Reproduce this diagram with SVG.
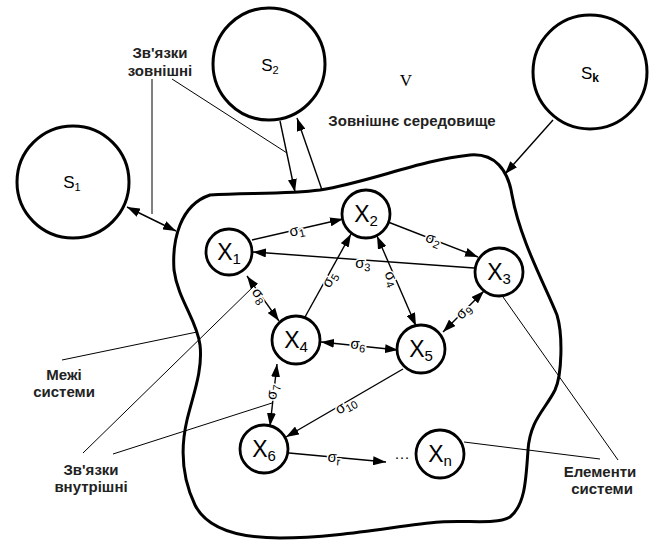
<svg xmlns="http://www.w3.org/2000/svg" width="651" height="540" viewBox="0 0 651 540">
<defs>
<marker id="ah" markerUnits="userSpaceOnUse" markerWidth="13" markerHeight="9" refX="13" refY="4.5" orient="auto-start-reverse"><path d="M0,0 L13,4.5 L0,9 z" fill="#000"/></marker>
<style>
.big{fill:#fff;stroke:#000;stroke-width:3}
.node{fill:#fff;stroke:#000;stroke-width:2.8}
.bd{fill:none;stroke:#000;stroke-width:3}
.c{fill:none;stroke:#000;stroke-width:1.4}
.ld{fill:none;stroke:#000;stroke-width:1}
.lbl{font-family:"Liberation Sans",Arial,sans-serif;font-weight:bold;font-size:15px;fill:#222;text-anchor:middle}
.x{font-family:"Liberation Sans",Arial,sans-serif;font-size:23px;fill:#000;text-anchor:middle}
.sg{font-family:"Liberation Sans",Arial,sans-serif;font-size:15px;fill:#000;text-anchor:middle;stroke:#fff;stroke-width:3;paint-order:stroke}
.s{font-family:"Liberation Sans",Arial,sans-serif;font-size:17px;fill:#000;text-anchor:middle}
</style>
</defs>
<rect width="651" height="540" fill="#fff"/>

<g id="boundary">
<path class="bd" d="M210,195 C250,193 290,194 320,190 C370,182 420,160 470,155 C495,153 508,170 512,195 C520,240 545,285 557,315 C563,335 562,375 555,390 C545,410 530,420 528,450 C526,480 525,505 510,517 C495,525 470,520 440,522 C400,525 340,538 280,538 C230,538 205,525 195,505 C183,480 180,450 187,420 C193,395 203,370 200,345 C197,320 178,300 174,270 C172,240 180,205 210,195 Z"/>
</g>

<g id="leaders">
<line class="ld" x1="152" y1="79" x2="152" y2="214"/>
<line class="ld" x1="172" y1="79" x2="287" y2="153"/>
<line class="ld" x1="62" y1="360" x2="197" y2="332"/>
<line class="ld" x1="83" y1="453" x2="256" y2="284"/>
<line class="ld" x1="113" y1="454" x2="272" y2="403"/>
<line class="ld" x1="503" y1="297" x2="618" y2="460"/>
<line class="ld" x1="464" y1="442" x2="600" y2="459"/>
</g>

<g id="connectors">
<line class="c" x1="127" y1="207" x2="176" y2="231" marker-start="url(#ah)" marker-end="url(#ah)"/>
<line class="c" x1="280" y1="121" x2="295" y2="192" marker-end="url(#ah)"/>
<line class="c" x1="322" y1="190" x2="297" y2="118" marker-end="url(#ah)"/>
<line class="c" x1="553" y1="120" x2="505" y2="174" marker-end="url(#ah)"/>

<line class="c" x1="252" y1="240" x2="343" y2="219" marker-end="url(#ah)"/>
<line class="c" x1="388" y1="222" x2="478" y2="257" marker-end="url(#ah)"/>
<line class="c" x1="474" y1="268" x2="253" y2="252" marker-end="url(#ah)"/>
<line class="c" x1="377" y1="236" x2="416" y2="326" marker-start="url(#ah)" marker-end="url(#ah)"/>
<line class="c" x1="305" y1="317" x2="351" y2="234" marker-end="url(#ah)"/>
<line class="c" x1="321" y1="342" x2="398" y2="350" marker-start="url(#ah)" marker-end="url(#ah)"/>
<line class="c" x1="247" y1="276" x2="279" y2="321" marker-start="url(#ah)" marker-end="url(#ah)"/>
<line class="c" x1="443" y1="332" x2="484" y2="291" marker-start="url(#ah)" marker-end="url(#ah)"/>
<line class="c" x1="277" y1="364" x2="270" y2="426" marker-start="url(#ah)" marker-end="url(#ah)"/>
<line class="c" x1="403" y1="369" x2="286" y2="437" marker-end="url(#ah)"/>
<line class="c" x1="289" y1="453" x2="386" y2="462" marker-end="url(#ah)"/>

<text class="sg" x="297" y="235" transform="rotate(-13 297 231)">σ<tspan font-size="11" dy="3">1</tspan></text>
<text class="sg" x="433" y="244" transform="rotate(21 433 240)">σ<tspan font-size="11" dy="3">2</tspan></text>
<text class="sg" x="363" y="268" transform="rotate(4 363 264)">σ<tspan font-size="11" dy="3">3</tspan></text>
<text class="sg" x="391" y="283" transform="rotate(66 391 279)">σ<tspan font-size="11" dy="3">4</tspan></text>
<text class="sg" x="330" y="284" transform="rotate(-61 330 280)">σ<tspan font-size="11" dy="3">5</tspan></text>
<text class="sg" x="358" y="349" transform="rotate(6 358 345)">σ<tspan font-size="11" dy="3">6</tspan></text>
<text class="sg" x="273" y="396" transform="rotate(-83 273 392)">σ<tspan font-size="11" dy="3">7</tspan></text>
<text class="sg" x="259" y="300" transform="rotate(55 259 296)">σ<tspan font-size="11" dy="3">8</tspan></text>
<text class="sg" x="464" y="316" transform="rotate(-45 464 312)">σ<tspan font-size="11" dy="3">9</tspan></text>
<text class="sg" x="346" y="410" transform="rotate(-30 346 406)">σ<tspan font-size="11" dy="3">10</tspan></text>
<text class="sg" x="334" y="462" transform="rotate(5 334 458)">σ<tspan font-size="11" dy="3">r</tspan></text>
<text class="sg" x="402" y="462">···</text>
</g>

<g id="S1"><circle class="big" cx="73" cy="182" r="56"/><text class="s" x="72" y="188">S<tspan font-size="11" dy="3">1</tspan></text></g>
<g id="S2"><circle class="big" cx="269" cy="64" r="56"/><text class="s" x="270" y="71">S<tspan font-size="11" dy="3">2</tspan></text></g>
<g id="Sk"><circle class="big" cx="590" cy="72" r="57"/><text class="s" x="590" y="79" font-family="Liberation Serif,serif">S<tspan font-size="12" dy="3" font-weight="bold">k</tspan></text></g>

<g id="X1"><circle class="node" cx="229" cy="252" r="23"/><text class="x" x="229" y="260">X<tspan font-size="15" dy="4">1</tspan></text></g>
<g id="X2"><circle class="node" cx="366" cy="214" r="24"/><text class="x" x="366" y="222">X<tspan font-size="15" dy="4">2</tspan></text></g>
<g id="X3"><circle class="node" cx="499" cy="272" r="24"/><text class="x" x="499" y="280">X<tspan font-size="15" dy="4">3</tspan></text></g>
<g id="X4"><circle class="node" cx="296" cy="340" r="24"/><text class="x" x="296" y="348">X<tspan font-size="15" dy="4">4</tspan></text></g>
<g id="X5"><circle class="node" cx="421" cy="349" r="24"/><text class="x" x="421" y="357">X<tspan font-size="15" dy="4">5</tspan></text></g>
<g id="X6"><circle class="node" cx="264" cy="449" r="24"/><text class="x" x="264" y="457">X<tspan font-size="15" dy="4">6</tspan></text></g>
<g id="Xn"><circle class="node" cx="440" cy="454" r="24"/><text class="x" x="440" y="462">X<tspan font-size="15" dy="4">n</tspan></text></g>

<g id="labels">
<text class="lbl" x="160" y="58">Зв'язки</text>
<text class="lbl" x="160" y="76">зовнішні</text>
<text x="406" y="86" font-family="Liberation Serif,serif" font-size="17" text-anchor="middle">V</text>
<text class="lbl" x="412" y="126">Зовнішнє середовище</text>
<text class="lbl" x="64" y="380">Межі</text>
<text class="lbl" x="64" y="397">системи</text>
<text class="lbl" x="91" y="475">Зв'язки</text>
<text class="lbl" x="91" y="492">внутрішні</text>
<text class="lbl" x="600" y="477">Елементи</text>
<text class="lbl" x="602" y="494">системи</text>
</g>
</svg>
